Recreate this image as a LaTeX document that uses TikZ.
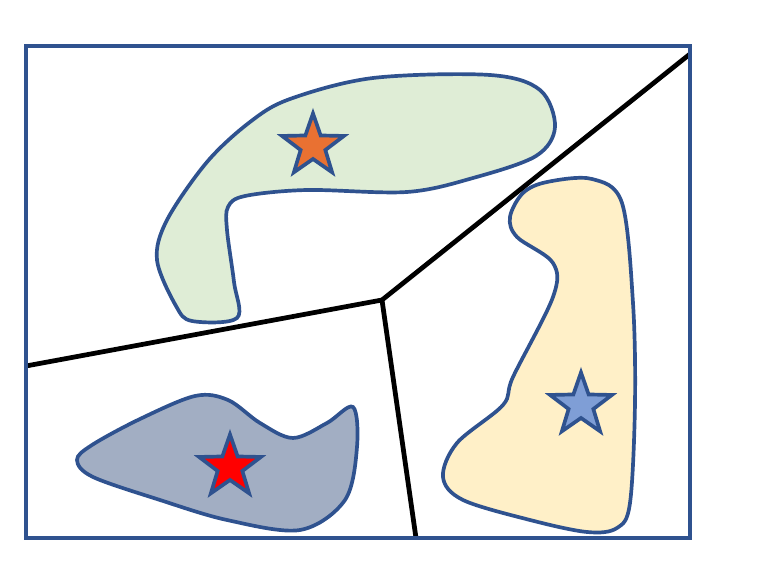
\documentclass[tikz,border=0pt]{standalone}
\usetikzlibrary{shapes.geometric}
\definecolor{edgeblue}{HTML}{2F528F}
\definecolor{greenfill}{HTML}{DFEDD6}
\definecolor{yellowfill}{HTML}{FFF0C8}
\definecolor{grayfill}{HTML}{A2AEC3}
\definecolor{orangestar}{HTML}{E97132}
\definecolor{bluestar}{HTML}{7F9ED6}
\tikzset{
  region/.style={draw=edgeblue, line width=2.1pt},
  seed/.style={star, star points=5, star point ratio=2.5, minimum size=1.3cm,
    inner sep=0pt, draw=edgeblue, line width=2.1pt},
  border/.style={black, line width=2.7pt}
}
\begin{document}
\begin{tikzpicture}[x=0.02cm, y=-0.02cm]
      \useasboundingbox (0,0) rectangle (762,587);
      % regions
      \draw[region, fill=greenfill] plot[smooth cycle, tension=0.55] coordinates {
        (157,260) (176,306) (192,321) (237,318) (234,282) (227,230) (228,207) (245,196)
        (307,190) (407,192) (473,178) (536,156) (555,127) (540,90) (490,75)
        (373,78) (290,99) (250,122) (207,162) (167,220)};
      \draw[region, fill=yellowfill] plot[smooth cycle, tension=0.55] coordinates {
        (547,182) (592,179) (622,203) (633,303) (635,403) (630,503) (617,528)
        (587,532) (530,520) (463,500) (443,477) (457,443) (503,405) (513,377)
        (553,297) (553,263) (517,237) (510,217) (523,193)};
      \draw[region, fill=grayfill] plot[smooth cycle, tension=0.55] coordinates {
        (77,460) (92,445) (140,419) (195,396) (228,400) (260,423) (293,438)
        (327,423) (353,407) (357,447) (345,500) (300,530) (227,520) (160,500)
        (93,477)};
      % partition
      \coordinate (c) at (382,300);
      \coordinate (tr) at (690,54);
      \coordinate (l) at (26,366);
      \coordinate (b) at (416,538);
      \draw[border] (c) -- (tr);
      \draw[border] (c) -- (l);
      \draw[border] (c) -- (b);
      \draw[edgeblue, line width=2.2pt] (26,46) rectangle (690,538);
      % seeds
      \node[seed, fill=orangestar] (s1) at (313,146) {};
      \node[seed, fill=bluestar] (s2) at (581,405) {};
      \node[seed, fill=red] (s3) at (230,467) {};
    \end{tikzpicture}
\end{document}
